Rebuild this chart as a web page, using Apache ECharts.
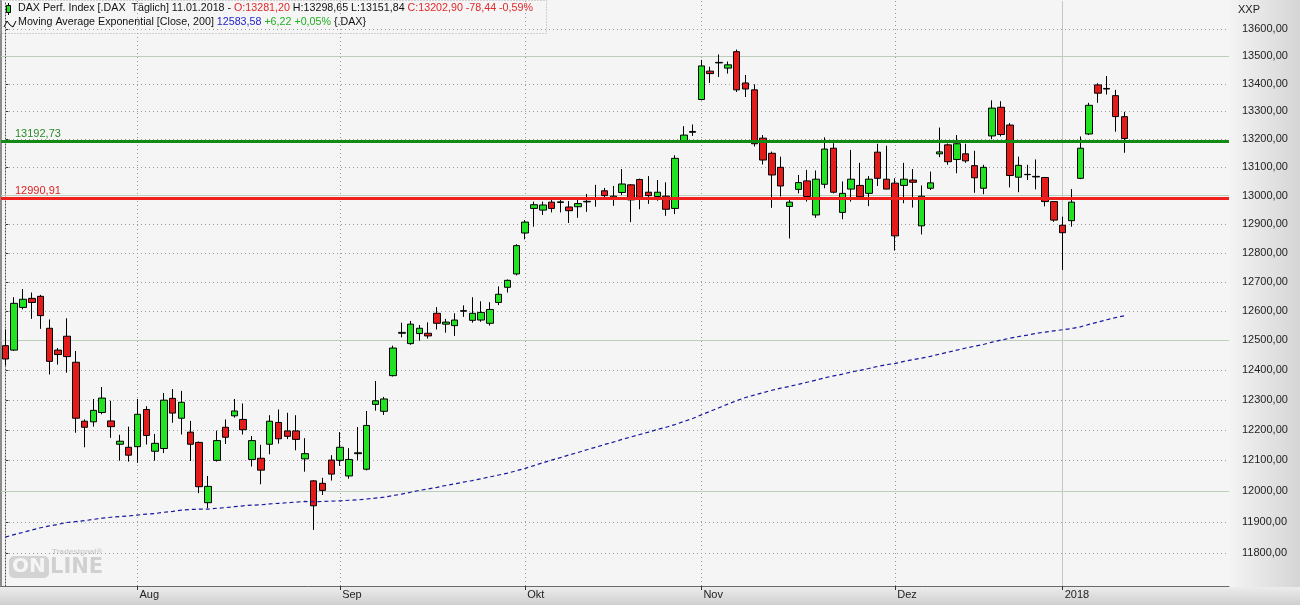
<!DOCTYPE html>
<html><head><meta charset="utf-8">
<script src="https://cdn.jsdelivr.net/npm/echarts@6/dist/echarts.min.js"></script>
<style>
html,body{margin:0;padding:0;background:#f5f5f5;}
#c{width:1300px;height:605px;
background:
 linear-gradient(to bottom,#ececec,#cfcfcf) 0 587px/1300px 18px no-repeat,
 linear-gradient(to right,#f4f4f4,#d5d5d5) 1229px 0/71px 587px no-repeat,
 #f5f5f5;}
</style>
</head><body><div id="c"></div>
<script>
const dates = [
'11.07.2017','12.07.2017','13.07.2017','14.07.2017','17.07.2017','18.07.2017','19.07.2017','20.07.2017','21.07.2017','24.07.2017','25.07.2017','26.07.2017','27.07.2017','28.07.2017','31.07.2017',
'01.08.2017','02.08.2017','03.08.2017','04.08.2017','07.08.2017','08.08.2017','09.08.2017','10.08.2017','11.08.2017','14.08.2017','15.08.2017','16.08.2017','17.08.2017','18.08.2017','21.08.2017','22.08.2017','23.08.2017','24.08.2017','25.08.2017','28.08.2017','29.08.2017','30.08.2017','31.08.2017',
'01.09.2017','04.09.2017','05.09.2017','06.09.2017','07.09.2017','08.09.2017','11.09.2017','12.09.2017','13.09.2017','14.09.2017','15.09.2017','18.09.2017','19.09.2017','20.09.2017','21.09.2017','22.09.2017','25.09.2017','26.09.2017','27.09.2017','28.09.2017','29.09.2017',
'02.10.2017','04.10.2017','05.10.2017','06.10.2017','09.10.2017','10.10.2017','11.10.2017','12.10.2017','13.10.2017','16.10.2017','17.10.2017','18.10.2017','19.10.2017','20.10.2017','23.10.2017','24.10.2017','25.10.2017','26.10.2017','27.10.2017','30.10.2017',
'01.11.2017','02.11.2017','03.11.2017','06.11.2017','07.11.2017','08.11.2017','09.11.2017','10.11.2017','13.11.2017','14.11.2017','15.11.2017','16.11.2017','17.11.2017','20.11.2017','21.11.2017','22.11.2017','23.11.2017','24.11.2017','27.11.2017','28.11.2017','29.11.2017','30.11.2017',
'01.12.2017','04.12.2017','05.12.2017','06.12.2017','07.12.2017','08.12.2017','11.12.2017','12.12.2017','13.12.2017','14.12.2017','15.12.2017','18.12.2017','19.12.2017','20.12.2017','21.12.2017','22.12.2017','27.12.2017','28.12.2017','29.12.2017',
'02.01.2018','03.01.2018','04.01.2018','05.01.2018','08.01.2018','09.01.2018','10.01.2018','11.01.2018'];

const open = [12482,12467,12612,12643,12650,12541,12467,12514,12426,12229,12227,12258,12230,12153,12143,
12145,12268,12130,12139,12305,12239,12193,12159,11962,12100,12209,12247,12235,12103,12107,12153,12225,12197,12197,12105,12033,12025,12101,
12100,12049,12122,12071,12285,12262,12381,12524,12489,12523,12524,12592,12555,12550,12599,12568,12569,12558,12629,12681,12727,
12869,12955,12949,12977,12976,12960,12961,12978,12988,13017,12994,13011,13038,13057,13012,12997,12998,12955,13192,13225,
13343,13446,13476,13457,13517,13403,13378,13204,13150,13100,12962,13022,13052,12932,13040,13168,12941,13023,13036,13008,13154,13058,
13044,13036,13055,12894,13026,13148,13180,13128,13148,13106,13026,13212,13315,13251,13065,13074,13066,13064,12979,
12896,12912,13061,13219,13396,13381,13357,13281.20];

const close = [12437,12626,12640,12629,12584,12429,12452,12445,12239,12209,12265,12306,12211,12163,12117,
12252,12182,12156,12299,12256,12292,12153,12014,12015,12165,12176,12263,12201,12165,12068,12229,12171,12179,12169,12122,11952,12002,12055,
12143,12103,12125,12215,12297,12303,12474,12527,12555,12541,12515,12558,12562,12569,12601,12592,12595,12605,12657,12705,12825,
12907,12968,12967,12955,12978,12947,12972,12980,12992,13000,12998,13041,12985,12994,13000,13012,12952,13132,13215,13228,
13465,13437,13478,13469,13378,13381,13184,13126,13073,13034,12977,13046,12997,13058,13165,13012,13008,13058,12996,13058,13061,13023,
12859,13058,13047,12998,13045,13155,13120,13184,13123,13063,13100,13312,13217,13071,13107,13075,13068,12979,12914,
12870,12977,13168,13322,13366,13383,13281.34,13202.90];

const low = [12415,12464,12605,12573,12539,12385,12418,12391,12191,12143,12211,12252,12174,12099,12096,
12092,12152,12099,12124,12224,12185,12098,11993,11944,12096,12154,12241,12185,12080,12022,12120,12155,12170,12133,12063,11874,11987,12034,
12082,12040,12100,12067,12264,12250,12378,12510,12485,12499,12506,12537,12526,12515,12580,12560,12563,12550,12620,12663,12722,
12847,12891,12932,12941,12941,12904,12922,12943,12961,12995,12964,13002,12907,12952,12971,12982,12929,12935,13188,13212,
13340,13403,13425,13437,13370,13352,13174,13110,12957,12997,12850,13008,12979,12922,13026,13008,12917,12979,12990,12963,13034,13023,
12808,12973,12958,12864,13020,13136,13109,13079,13116,13010,13005,13200,13210,13029,13012,13055,13022,12962,12908,
12741,12891,13058,13215,13331,13361,13227,13151.84];

const high = [12537,12647,12675,12663,12655,12571,12474,12575,12464,12235,12303,12343,12297,12184,12211,
12303,12279,12187,12323,12336,12330,12230,12162,12049,12198,12235,12303,12288,12180,12151,12249,12268,12257,12249,12173,12035,12043,12117,
12193,12140,12210,12263,12363,12310,12482,12560,12566,12552,12561,12613,12573,12592,12619,12647,12633,12630,12684,12708,12830,
12914,12979,12979,12985,12985,12981,12989,13006,13038,13027,13034,13094,13041,13060,13069,13055,13047,13143,13247,13253,
13487,13462,13507,13481,13525,13432,13398,13215,13156,13138,12988,13073,13091,13089,13207,13186,13050,13162,13116,13069,13184,13177,
13061,13116,13094,13036,13085,13242,13185,13215,13184,13159,13109,13340,13337,13258,13138,13109,13128,13066,12981,
12926,13023,13210,13331,13402,13428,13378,13298.65];

const ema200 = [11851,11859,11866,11874,11881,11887,11892,11898,11901,11904,11908,11912,11915,11917,11919,
11922,11925,11927,11931,11934,11938,11940,11941,11941,11944,11946,11949,11952,11954,11955,11958,11960,11962,11964,11966,11965,11966,11967,
11968,11970,11971,11974,11977,11980,11985,11990,11996,12002,12007,12012,12018,12023,12029,12034,12040,12046,12052,12058,12066,
12074,12083,12092,12101,12109,12118,12126,12135,12143,12152,12160,12169,12177,12185,12193,12202,12209,12218,12228,12238,
12250,12262,12274,12286,12297,12308,12316,12324,12332,12339,12345,12352,12359,12366,12374,12380,12386,12393,12399,12405,12412,12418,
12422,12429,12435,12440,12446,12453,12460,12467,12474,12480,12486,12494,12501,12507,12513,12518,12524,12528,12532,
12536,12540,12546,12554,12562,12570,12577.36,12583.58];

const supportLevels = [13192.73];
const resistanceLevels = [12990.91];
const yTickLabels = [11800,11900,12000,12100,12200,12300,12400,12500,12600,12700,12800,12900,13000,13100,13200,13300,13400,13500,13600];
const ySolidGrid = [12000,12500,13000,13500];
const monthNames = ['Jan','Feb','Mär','Apr','Mai','Jun','Jul','Aug','Sep','Okt','Nov','Dez'];

const FONT = 'Liberation Sans, Arial, sans-serif';
const fmt = v => v.toFixed(2).replace('.', ',');
const fmtS = v => (v >= 0 ? '+' : '') + v.toFixed(2).replace('.', ',');

const monthStarts = [];
dates.forEach((d, i) => { if (i > 0 && d.slice(3, 5) !== dates[i - 1].slice(3, 5)) monthStarts.push(i); });
const monthLabel = i => { const p = dates[Math.round(i)].split('.'); return p[1] === '01' ? p[2] : monthNames[+p[1] - 1]; };
const yearStarts = monthStarts.filter(i => dates[i].slice(3, 5) === '01');
const plainMonthStarts = monthStarts.filter(i => dates[i].slice(3, 5) !== '01');

const candles = dates.map((d, i) => [i, open[i], close[i], low[i], high[i]]);
const emaData = dates.map((d, i) => [i, ema200[i]]);

const n = dates.length;
const lastO = open[n - 1], lastC = close[n - 1], lastH = high[n - 1], lastL = low[n - 1];
const chg = lastC - close[n - 2], pct = chg / close[n - 2] * 100;
const emaLast = ema200[n - 1], emaChg = emaLast - ema200[n - 2], emaPct = emaChg / ema200[n - 2] * 100;

const gridLines = [];
yTickLabels.forEach(v => {
  if (ySolidGrid.indexOf(v) < 0) gridLines.push({yAxis: v, lineStyle: {type: [1, 3], color: '#9a9a9a', width: 1}});
});
ySolidGrid.forEach(v => gridLines.push({yAxis: v, lineStyle: {type: 'solid', color: '#bccdbc', width: 1}}));
plainMonthStarts.forEach(i => gridLines.push({xAxis: i, lineStyle: {type: [1, 3], color: '#9a9a9a', width: 1}}));
yearStarts.forEach(i => gridLines.push({xAxis: i, lineStyle: {type: 'solid', color: '#bccdbc', width: 1}}));

const levelLines = [];
supportLevels.forEach(v => levelLines.push({yAxis: v, lineStyle: {color: '#138a13', width: 3, type: 'solid'},
  label: {color: '#2a8a2a'}}));
resistanceLevels.forEach(v => levelLines.push({yAxis: v, lineStyle: {color: '#f0201c', width: 3, type: 'solid'},
  label: {color: '#e02020'}}));

const LF = 10.7;
const chart = echarts.init(document.getElementById('c'), null, {renderer: 'canvas'});
chart.setOption({
  animation: false,
  backgroundColor: 'transparent',
  textStyle: {fontFamily: FONT},
  grid: {left: 1, right: 71, top: 1, bottom: 19, show: true, backgroundColor: '#f5f5f5', borderWidth: 0, containLabel: false, outerBoundsMode: 'none'},
  xAxis: {
    type: 'value', min: -0.49, max: 138.88,
    axisLine: {show: true, lineStyle: {color: '#6a6a6a', width: 1}},
    axisTick: {show: true, customValues: monthStarts, length: 4, lineStyle: {color: '#333'}},
    axisLabel: {customValues: monthStarts, formatter: v => monthLabel(v), align: 'left', margin: 3, padding: [0, 0, 0, 2],
      color: '#222', fontSize: 11, fontFamily: FONT},
    splitLine: {show: false}
  },
  yAxis: [{
    type: 'log', logBase: 10, min: 11695, max: 13704, position: 'right',
    axisLine: {show: true, lineStyle: {color: '#444', width: 1, type: [1, 2]}},
    axisTick: {show: true, customValues: yTickLabels, length: 3, lineStyle: {color: '#333'}},
    axisLabel: {customValues: yTickLabels, formatter: v => fmt(v), margin: 13, color: '#222', fontSize: 11, fontFamily: FONT},
    splitLine: {show: false}
  }],
  series: [
    {
      type: 'candlestick', name: 'DAX', data: candles, encode: {x: 0, y: [1, 2, 3, 4]},
      barWidth: 7, z: 2,
      itemStyle: {color: '#22e322', color0: '#e41b1b', borderColor: '#000', borderColor0: '#000', borderWidth: 1},
      markLine: {silent: true, symbol: 'none', z: 1, animation: false, label: {show: false}, data: gridLines}
    },
    {
      type: 'line', name: 'EMA200', data: emaData, showSymbol: false, symbol: 'none', z: 4,
      lineStyle: {color: '#1818a0', width: 1.2, type: [4, 3]},
      markLine: {silent: true, symbol: 'none', z: 3, animation: false,
        label: {show: true, position: 'insideStartTop', formatter: p => fmt(p.value), fontSize: 11, fontFamily: FONT, distance: [14, 2]},
        data: levelLines}
    }
  ],
  graphic: [
    {type: 'rect', shape: {x: 0, y: 0, width: 2, height: 587}, style: {fill: '#8c8c8c'}, silent: true},
    {type: 'rect', shape: {x: 0.5, y: 0.5, width: 546, height: 33}, style: {fill: 'none', stroke: '#aaaaaa', lineDash: [1, 2], lineWidth: 1}, silent: true},
    {type: 'line', shape: {x1: 8.5, y1: 3, x2: 8.5, y2: 15}, style: {stroke: '#000', lineWidth: 1}},
    {type: 'rect', shape: {x: 6.5, y: 5.5, width: 4, height: 7}, style: {fill: '#22e322', stroke: '#000', lineWidth: 1}},
    {type: 'polyline', shape: {points: [[4, 27], [7, 21], [10, 25], [13, 27], [16, 21]]}, style: {stroke: '#000', lineWidth: 1, fill: 'none'}},
    {type: 'text', x: 18, y: 3, style: {
      text: '{k|DAX Perf. Index [.DAX  Täglich] ' + dates[n - 1] + ' - }{r|O:' + fmt(lastO) + '}{k| H:' + fmt(lastH) + ' L:' + fmt(lastL) + ' }{r|C:' + fmt(lastC) + ' ' + fmtS(chg) + ' ' + fmtS(pct) + '%}',
      rich: {k: {fill: '#111', fontSize: LF, fontFamily: FONT}, r: {fill: '#e02828', fontSize: LF, fontFamily: FONT}}}},
    {type: 'text', x: 18, y: 17, style: {
      text: '{k|Moving Average Exponential [Close, 200] }{b|' + fmt(emaLast) + '}{g| ' + fmtS(emaChg) + ' ' + fmtS(emaPct) + '%} {.DAX}',
      fill: '#111', fontSize: LF, fontFamily: FONT,
      rich: {k: {fill: '#111', fontSize: LF, fontFamily: FONT}, b: {fill: '#2424c8', fontSize: LF, fontFamily: FONT}, g: {fill: '#22b022', fontSize: LF, fontFamily: FONT}}}},
    {type: 'text', x: 1238, y: 4, style: {text: 'XXP', fill: '#222', fontSize: 11, fontFamily: FONT}},
    {type: 'rect', shape: {x: 9, y: 556, width: 40, height: 22, r: 5}, style: {fill: '#d3d3d3'}, silent: true},
    {type: 'text', x: 12, y: 557, style: {text: 'ON', fill: '#f5f5f5', fontSize: 20, fontWeight: 'bold', fontFamily: 'DejaVu Sans, sans-serif'}},
    {type: 'text', x: 50, y: 557, style: {text: 'LINE', fill: '#d0d0d0', fontSize: 21, fontWeight: 'bold', fontFamily: 'DejaVu Sans, sans-serif'}},
    {type: 'text', x: 52, y: 548, style: {text: 'Tradesignal®', fill: '#cdcdcd', fontSize: 8, fontWeight: 'bold', fontFamily: FONT}}
  ]
});
</script>
</body></html>
